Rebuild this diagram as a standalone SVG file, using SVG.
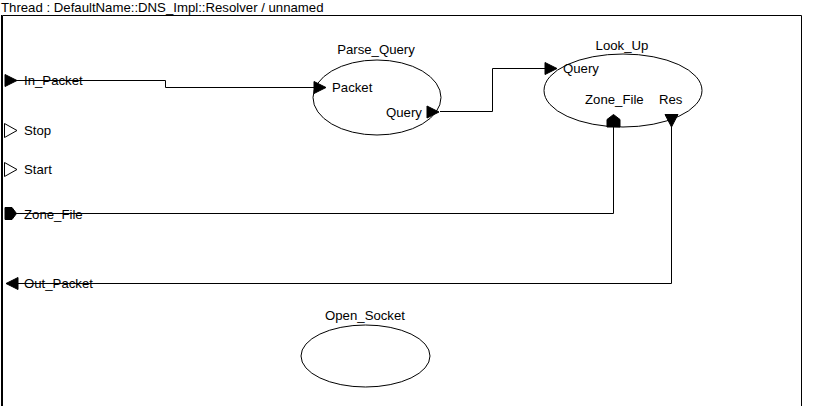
<svg xmlns="http://www.w3.org/2000/svg" width="816" height="406" viewBox="0 0 816 406">
<style>
text{font-family:"Liberation Sans",Arial,sans-serif;font-size:13.2px;fill:#000}
.c{text-anchor:middle}
.ell{fill:none;stroke:#000;stroke-width:1}
.wire{fill:none;stroke:#000;stroke-width:1}
.pf{fill:#000;stroke:#000;stroke-width:1}
.po{fill:#fff;stroke:#000;stroke-width:1}
</style>
<rect width="816" height="406" fill="#fff"/>
<g id="frame">
<text x="1" y="12">Thread : DefaultName::DNS_Impl::Resolver / unnamed</text>
<path d="M2.5,410 V15.5 H801.5 V410" fill="none" stroke="#000" stroke-width="1"/>
<line x1="1.5" y1="15" x2="1.5" y2="406" stroke="#000"/>
</g>
<g id="connectors">
<polyline class="wire" points="5,80.5 165.5,80.5 165.5,87.5 314,87.5"/>
<polyline class="wire" points="440,111.5 492.5,111.5 492.5,68.5 545,68.5"/>
<polyline class="wire" points="613.5,127 613.5,213.5 5,213.5"/>
<polyline class="wire" points="671.5,127 671.5,283.5 6,283.5"/>
</g>
<g id="port_In_Packet">
<polygon class="pf" points="5,74.5 17,80.5 5,86.5"/>
<text x="24" y="85">In_Packet</text>
</g>
<g id="port_Stop">
<polygon class="po" points="4.5,123.5 17,130.5 4.5,137.5"/>
<text x="24" y="135">Stop</text>
</g>
<g id="port_Start">
<polygon class="po" points="4.5,162.5 17,169.5 4.5,176.5"/>
<text x="24" y="174">Start</text>
</g>
<g id="port_Zone_File">
<polygon class="pf" points="5,207.5 12,207.5 16.5,213.5 12,219.5 5,219.5"/>
<text x="24" y="219">Zone_File</text>
</g>
<g id="port_Out_Packet">
<polygon class="pf" points="18,277.5 6,283.5 18,289.5"/>
<text x="24" y="288">Out_Packet</text>
</g>
<g id="Parse_Query">
<text class="c" x="376" y="54">Parse_Query</text>
<ellipse class="ell" cx="377" cy="97.5" rx="64" ry="37.5"/>
<polygon class="pf" points="314,81.5 326,87.5 314,93.5"/>
<text x="332" y="92">Packet</text>
<polygon class="pf" points="427,106 439,112 427,118"/>
<text x="386" y="117">Query</text>
</g>
<g id="Look_Up">
<text class="c" x="622" y="50">Look_Up</text>
<ellipse class="ell" cx="623" cy="90.5" rx="79" ry="36.5"/>
<polygon class="pf" points="545,62.5 557,68.5 545,74.5"/>
<text x="563" y="73">Query</text>
<text x="585" y="104">Zone_File</text>
<text x="659" y="104">Res</text>
<polygon class="pf" points="607,127 607,119.5 613.5,114.5 620,119.5 620,127"/>
<polygon class="pf" points="665,114.5 678,114.5 671.5,127"/>
</g>
<g id="Open_Socket">
<text class="c" x="365" y="320">Open_Socket</text>
<ellipse class="ell" cx="365.5" cy="356" rx="64.5" ry="31"/>
</g>
</svg>
